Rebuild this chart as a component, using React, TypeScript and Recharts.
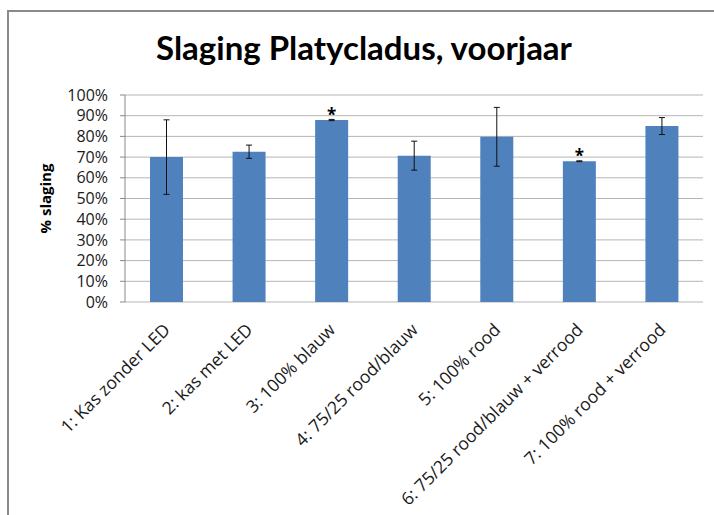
import React from "react";
import {
  BarChart, Bar, XAxis, YAxis, CartesianGrid, ErrorBar, LabelList,
} from "recharts";

const categories = [
  "1: Kas zonder LED",
  "2: kas met LED",
  "3: 100% blauw",
  "4: 75/25 rood/blauw",
  "5: 100% rood",
  "6: 75/25 rood/blauw + verrood",
  "7: 100% rood + verrood",
];
const slaging = [70, 72.6, 87.9, 70.7, 79.8, 68, 85];
const spreiding = [18, 3.2, 0.3, 7, 14.2, 0.2, 4.1];
const significant = ["", "", "*", "", "", "*", ""];
const yTicks = [0, 10, 20, 30, 40, 50, 60, 70, 80, 90, 100];
const categoryEdges = [0, 1, 2, 3, 4, 5, 6, 7];

const data = categories.map((name, i) => ({
  name,
  value: slaging[i],
  err: spreiding[i],
  sig: significant[i],
}));

const FONT = "'Open Sans', sans-serif";

function CategoryTick(props: any) {
  const { x, y, payload } = props;
  return (
    <g transform={`translate(${x + 5},${y + 21})`}>
      <text
        transform="rotate(-45)"
        textAnchor="end"
        fontFamily={FONT}
        fontSize={17.5}
        fill="#1a1a1a"
      >
        {payload.value}
      </text>
    </g>
  );
}

function Star(props: any) {
  const { x, y, width, value } = props;
  if (!value) return null;
  return (
    <text
      x={x + width / 2}
      y={y + 1}
      textAnchor="middle"
      fontFamily={FONT}
      fontWeight={700}
      fontSize={17}
      fill="#000"
    >
      {value}
    </text>
  );
}

export default function App() {
  return (
    <div
      style={{
        position: "fixed",
        left: 0,
        top: 0,
        width: 714,
        height: 515,
        overflow: "hidden",
        background: "#fff",
      }}
    >
      <svg
        width={714}
        height={515}
        style={{ position: "absolute", left: 0, top: 0, display: "block" }}
      >
        <path d="M8,515 V11 H714" fill="none" stroke="#8a8a8a" strokeWidth={2} />
        <text
          x={364}
          y={60}
          textAnchor="middle"
          fontFamily="Lato, sans-serif"
          fontWeight={700}
          fontSize={33}
          fill="#000"
        >
          Slaging Platycladus, voorjaar
        </text>
      </svg>
      <div style={{ position: "absolute", left: 0, top: 0 }}>
        <BarChart
          width={714}
          height={515}
          data={data}
          margin={{ top: 95, right: 11, bottom: 13, left: 25 }}
        >
          <CartesianGrid vertical={false} stroke="#b5b5b5" />
          <XAxis
            xAxisId={0}
            type="number"
            domain={[0, 7]}
            ticks={categoryEdges}
            tick={false}
            height={0}
            tickSize={6}
            stroke="#8a8a8a"
            allowDataOverflow
          />
          <XAxis
            xAxisId="cat"
            dataKey="name"
            interval={0}
            height={200}
            axisLine={false}
            tickLine={false}
            tick={<CategoryTick />}
          />
          <YAxis
            domain={[0, 100]}
            ticks={yTicks}
            interval={0}
            width={100}
            tickSize={5}
            tickMargin={12}
            stroke="#8a8a8a"
            tickFormatter={(v) => `${v}%`}
            tick={{ fontFamily: FONT, fontSize: 16, fill: "#1a1a1a" }}
            label={{
              content: (p: any) => {
                const vb = p.viewBox;
                return (
                  <text
                    transform={`translate(${vb.x + 26},${vb.y + vb.height / 2}) rotate(-90)`}
                    textAnchor="middle"
                    fontFamily={FONT}
                    fontWeight={700}
                    fontSize={15}
                    fill="#000"
                  >
                    % slaging
                  </text>
                );
              },
            }}
          />
          <Bar
            xAxisId="cat"
            dataKey="value"
            fill="#4f81bd"
            barSize={33}
            isAnimationActive={false}
          >
            <ErrorBar dataKey="err" width={3} stroke="#111" strokeWidth={1} />
            <LabelList dataKey="sig" content={<Star />} />
          </Bar>
        </BarChart>
      </div>
    </div>
  );
}
